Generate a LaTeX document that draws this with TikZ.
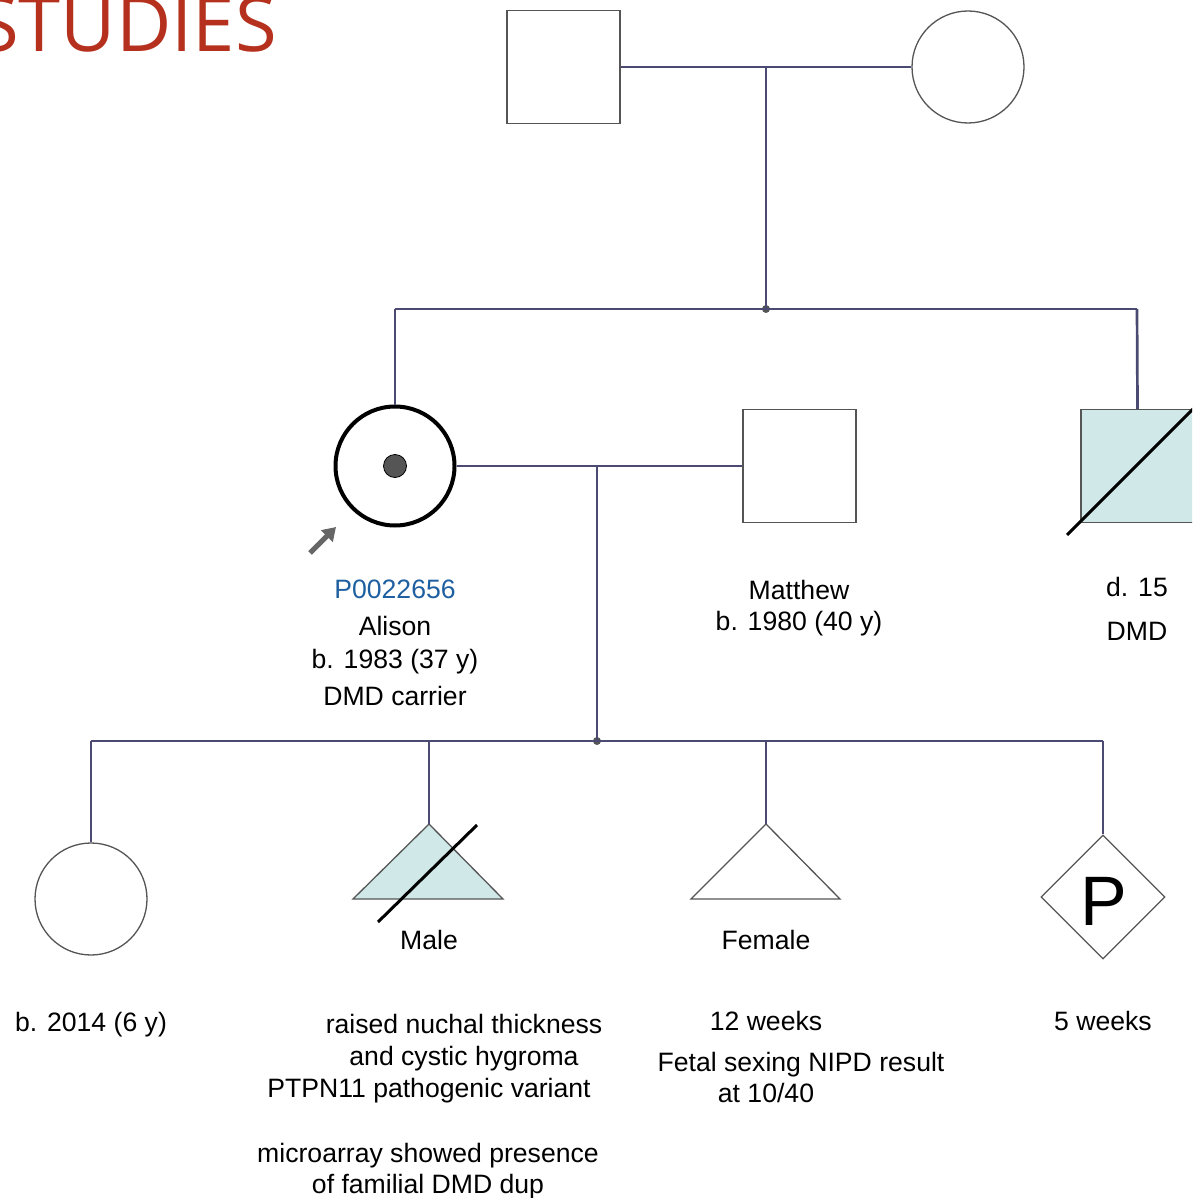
\documentclass[tikz,border=0pt]{standalone}
\usepackage{fontspec}
\setmainfont{Liberation Sans}
\newfontfamily\titlefont{Open Sans}
\usetikzlibrary{shapes.geometric,arrows.meta}
\definecolor{conn}{HTML}{4A4A72}
\definecolor{fillc}{HTML}{D0E8E8}
\definecolor{titlered}{HTML}{B5311E}
\definecolor{idblue}{HTML}{1E5FA0}
\definecolor{outl}{HTML}{555555}
\tikzset{
  connline/.style={draw=conn,line width=2.7},
  sqbox/.style={draw=outl,line width=1.3,rectangle,minimum size=113,inner sep=0},
  circbox/.style={draw=outl,line width=1.3,circle,minimum size=112,inner sep=0},
  slash/.style={draw=black,line width=3},
  junc/.style={circle,fill=outl,inner sep=0,minimum size=8},
  lbl/.style={anchor=base,inner sep=0,font=\fontsize{26.6}{30}\selectfont},
}
\begin{document}
\begin{tikzpicture}[x=1pt,y=-1pt]
\useasboundingbox (0,0) rectangle (1192,1198);
\clip (0,0) rectangle (1192,1198);
% title
\node[anchor=base east,inner sep=0,text=titlered,font=\titlefont\fontsize{76}{80}\selectfont] (title) at (277,52) {STUDIES};

% generation I
\node[sqbox] (gf) at (563.5,67) {};
\node[circbox] (gm) at (968,67) {};
\coordinate (m1) at (766,67);
\draw[connline] (gf.east) -- (gm.west);
\node[junc] (s1) at (766,309) {};
\draw[connline] (m1) -- (s1.center);

% generation II
\node[circle,draw=black,line width=4,minimum size=119,inner sep=0] (alison) at (395,466) {};
\node[circle,draw=black,line width=0.8,fill=outl,minimum size=23,inner sep=0] (dot) at (395,466) {};
\node[sqbox] (matthew) at (799.5,466) {};
\node[sqbox,fill=fillc] (uncle) at (1137.5,466) {};
\draw[slash] (1067,535) -- (1194,408);
\coordinate (s1l) at (395,309);
\coordinate (s1r) at (1137,309);
\draw[connline] (s1l) -- (s1r);
\draw[connline] (s1l) -- (alison.north);
\draw[connline] (s1r) -- (uncle.north);
\draw[connline] (alison.east) -- (matthew.west);
\coordinate (m2) at (597,466);
\node[junc] (s2) at (597,741) {};
\draw[connline] (m2) -- (s2.center);
% proband arrow
\coordinate (arrtail) at (310,553);
\coordinate (arrhead) at (336,527);
\draw[draw=outl!90,line width=5,-{Triangle[length=13,width=16]}] (arrtail) -- (arrhead);

% labels generation II
\node[lbl,text=idblue] (id) at (395,598) {P0022656};
\node[lbl] (al1) at (395,635) {Alison};
\node[lbl] (al2) at (395,668) {b. 1983 (37 y)};
\node[lbl] (al3) at (395,705) {DMD carrier};
\node[lbl] (mt1) at (799,599) {Matthew};
\node[lbl] (mt2) at (799,630) {b. 1980 (40 y)};
\node[lbl] (un1) at (1137,596) {d. 15};
\node[lbl] (un2) at (1137,640) {DMD};

% generation III
\coordinate (s2l) at (91,741);
\coordinate (s2r) at (1103,741);
\draw[connline] (s2l) -- (s2r);
\node[circbox] (dau) at (91,899) {};
\draw[connline] (s2l) -- (dau.north);

\coordinate (mtop) at (429,824);
\coordinate (mvert) at (429,741);
\draw[draw=outl,line width=1.3,fill=fillc] (mtop) -- (503,899) -- (353,899) -- cycle;
\draw[slash] (378,922) -- (477,825);
\draw[connline] (mvert) -- (mtop);

\coordinate (ftop) at (766,824);
\coordinate (fvert) at (766,741);
\draw[draw=outl,line width=1.3,fill=white] (ftop) -- (840,899) -- (691,899) -- cycle;
\draw[connline] (fvert) -- (ftop);

\node[diamond,draw=outl,line width=1.3,minimum width=124,minimum height=124,inner sep=0,aspect=1] (preg) at (1103,897) {};
\node[anchor=base,inner sep=0,font=\fontsize{70}{80}\selectfont] (pl) at (1104,925) {P};
\draw[connline] (s2r) -- (preg.north);

% labels generation III
\node[lbl] (ml) at (429,949) {Male};
\node[lbl] (fl) at (766,949) {Female};
\node[lbl] (d1) at (91,1031) {b. 2014 (6 y)};
\node[lbl] (mx1) at (464,1033) {raised nuchal thickness};
\node[lbl] (mx2) at (464,1065) {and cystic hygroma};
\node[lbl] (mx3) at (429,1097) {PTPN11 pathogenic variant};
\node[lbl] (mx4) at (428,1162) {microarray showed presence};
\node[lbl] (mx5) at (428,1193) {of familial DMD dup};
\node[lbl] (fx1) at (766,1030) {12 weeks};
\node[lbl] (fx2) at (801,1071) {Fetal sexing NIPD result};
\node[lbl] (fx3) at (766,1102) {at 10/40};
\node[lbl] (px1) at (1103,1030) {5 weeks};
\end{tikzpicture}
\end{document}
